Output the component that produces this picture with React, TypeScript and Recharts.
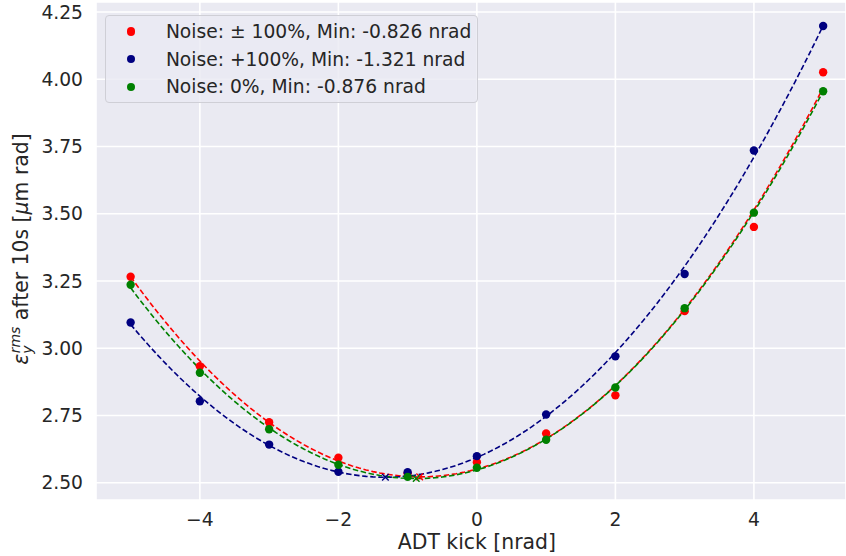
import React from 'react';
import { ComposedChart, Line, Scatter, XAxis, YAxis, CartesianGrid } from 'recharts';

// ADT kick values [nrad]
const kicks = [-5, -4, -3, -2, -1, 0, 1, 2, 3, 4, 5];
// emittance after 10 s [um rad]
const noisePM100 = [3.266, 2.933, 2.725, 2.593, 2.535, 2.576, 2.683, 2.825, 3.138, 3.451, 4.026];
const noisePlus100 = [3.096, 2.803, 2.642, 2.541, 2.539, 2.599, 2.754, 2.970, 3.276, 3.735, 4.198];
const noise0 = [3.236, 2.909, 2.699, 2.567, 2.522, 2.556, 2.660, 2.854, 3.149, 3.504, 3.955];

const seriesNames = [
  'Noise: ± 100%, Min: -0.826 nrad',
  'Noise: +100%, Min: -1.321 nrad',
  'Noise: 0%, Min: -0.876 nrad',
];
const seriesColors = ['#ff0000', '#000080', '#008000'];
const minima = [-0.826, -1.321, -0.876];

const xTicks = [-4, -2, 0, 2, 4];
const yTicks = [2.5, 2.75, 3.0, 3.25, 3.5, 3.75, 4.0, 4.25];
const xDomain: [number, number] = [-5.5, 5.33];
const yDomain: [number, number] = [2.436, 4.287];

// quadratic least-squares fit of the measured points (as in the original analysis)
function polyfit2(xs: number[], ys: number[]) {
  let s0 = 0, s1 = 0, s2 = 0, s3 = 0, s4 = 0, t0 = 0, t1 = 0, t2 = 0;
  xs.forEach((x, i) => {
    const y = ys[i];
    s0 += 1; s1 += x; s2 += x * x; s3 += x * x * x; s4 += x * x * x * x;
    t0 += y; t1 += x * y; t2 += x * x * y;
  });
  const M = [[s4, s3, s2, t2], [s3, s2, s1, t1], [s2, s1, s0, t0]];
  for (let i = 0; i < 3; i++) {
    for (let j = i + 1; j < 3; j++) {
      const f = M[j][i] / M[i][i];
      for (let k = i; k < 4; k++) M[j][k] -= f * M[i][k];
    }
  }
  const r = [0, 0, 0];
  for (let i = 2; i >= 0; i--) {
    let s = M[i][3];
    for (let k = i + 1; k < 3; k++) s -= M[i][k] * r[k];
    r[i] = s / M[i][i];
  }
  return (x: number) => r[0] * x * x + r[1] * x + r[2];
}

const allSeries = [noisePM100, noisePlus100, noise0];
const fits = allSeries.map((ys) => polyfit2(kicks, ys));
const fitGrid = Array.from({ length: 101 }, (_, i) => -5 + i * 0.1);

const pointsData = allSeries.map((ys) => kicks.map((x, i) => ({ x, y: ys[i] })));
const fitData = fits.map((f) => fitGrid.map((x) => ({ x, y: f(x) })));
const minData = fits.map((f, i) => [{ x: minima[i], y: f(minima[i]) }]);

const FONT = 'DejaVu Sans, sans-serif';
const TEXT = '#262626';
const TICK_SIZE = 18.7;
const LABEL_SIZE = 20.4;

const fmtX = (v: number) => (v < 0 ? '\u2212' + Math.abs(v) : String(v));
const fmtY = (v: number) => v.toFixed(2);

const makeDot = (color: string) => (props: any) => (
  <circle cx={props.cx} cy={props.cy} r={4.2} fill={color} />
);
const makeCross = (color: string) => (props: any) => {
  const { cx, cy } = props;
  const d = 3.3;
  return (
    <path
      d={`M${cx - d},${cy - d}L${cx + d},${cy + d}M${cx - d},${cy + d}L${cx + d},${cy - d}`}
      stroke={color}
      strokeWidth={1.4}
      fill="none"
    />
  );
};

const YLabel = (props: any) => {
  const vb = props.viewBox || { x: 0, y: 2, width: 96, height: 498 };
  const cx = vb.x + 28;
  const cy = vb.y + vb.height / 2 - 2;
  return (
    <text
      x={cx}
      y={cy}
      transform={`rotate(-90, ${cx}, ${cy})`}
      textAnchor="middle"
      fontSize={LABEL_SIZE}
      fontFamily={FONT}
      fill={TEXT}
    >
      <tspan fontStyle="italic">ε</tspan>
      <tspan fontStyle="italic" fontSize={14} dy={4}>y</tspan>
      <tspan fontStyle="italic" fontSize={14} dx={-8} dy={-12}>rms</tspan>
      <tspan dy={8}> after 10s [</tspan>
      <tspan fontStyle="italic">μ</tspan>
      <tspan>m rad]</tspan>
    </text>
  );
};

const XLabel = (props: any) => {
  const vb = props.viewBox || { x: 96, y: 500, width: 750, height: 56 };
  const frac = (0 - xDomain[0]) / (xDomain[1] - xDomain[0]);
  const cx = vb.x + vb.width * frac;
  return (
    <text x={cx} y={vb.y + 49} textAnchor="middle" fontSize={LABEL_SIZE} fontFamily={FONT} fill={TEXT}>
      ADT kick [nrad]
    </text>
  );
};

const LegendBox = () => (
  <div
    style={{
      position: 'absolute',
      left: 104.5,
      top: 15,
      width: 373,
      height: 88,
      boxSizing: 'border-box',
      border: '1px solid #cfcfd6',
      borderRadius: 4,
      background: 'rgba(234,234,242,0.8)',
      paddingTop: 1.5,
      fontFamily: FONT,
      fontSize: TICK_SIZE,
      color: TEXT,
    }}
  >
    {seriesNames.map((name, i) => (
      <div key={i} style={{ display: 'flex', alignItems: 'center', height: 27.7, whiteSpace: 'nowrap' }}>
        <span
          style={{
            display: 'inline-block',
            width: 8.4,
            height: 8.4,
            borderRadius: '50%',
            background: seriesColors[i],
            marginLeft: 21,
            marginRight: 31,
          }}
        />
        <span>{name}</span>
      </div>
    ))}
  </div>
);

export default function App() {
  return (
    <div style={{ position: 'absolute', left: 0, top: 0, width: 846, height: 556, background: '#fff', overflow: 'hidden' }}>
      <ComposedChart width={846} height={556} margin={{ top: 2, right: 0, bottom: 0, left: 0 }}>
        <CartesianGrid fill="#eaeaf2" fillOpacity={1} stroke="#ffffff" strokeWidth={1.6} />
        <XAxis
          type="number"
          dataKey="x"
          domain={xDomain}
          ticks={xTicks}
          allowDataOverflow
          tickFormatter={fmtX}
          axisLine={false}
          tickLine={false}
          tickSize={0}
          tickMargin={13}
          height={56}
          tick={{ fill: TEXT, fontSize: TICK_SIZE, fontFamily: FONT }}
          label={<XLabel />}
        />
        <YAxis
          type="number"
          dataKey="y"
          domain={yDomain}
          ticks={yTicks}
          allowDataOverflow
          tickFormatter={fmtY}
          axisLine={false}
          tickLine={false}
          tickSize={0}
          tickMargin={13}
          width={96}
          tick={{ fill: TEXT, fontSize: TICK_SIZE, fontFamily: FONT }}
          label={<YLabel />}
        />
        {[0, 1, 2].map((i) => (
          <Scatter
            key={'p' + i}
            data={pointsData[i]}
            dataKey="y"
            fill={seriesColors[i]}
            shape={makeDot(seriesColors[i])}
            isAnimationActive={false}
          />
        ))}
        {[0, 1, 2].map((i) => (
          <Line
            key={'f' + i}
            data={fitData[i]}
            dataKey="y"
            type="linear"
            stroke={seriesColors[i]}
            strokeWidth={1.6}
            strokeDasharray="5.5 2.6"
            dot={false}
            activeDot={false}
            isAnimationActive={false}
          />
        ))}
        {[0, 1, 2].map((i) => (
          <Scatter
            key={'m' + i}
            data={minData[i]}
            dataKey="y"
            fill={seriesColors[i]}
            shape={makeCross(seriesColors[i])}
            isAnimationActive={false}
          />
        ))}
      </ComposedChart>
      <LegendBox />
    </div>
  );
}
